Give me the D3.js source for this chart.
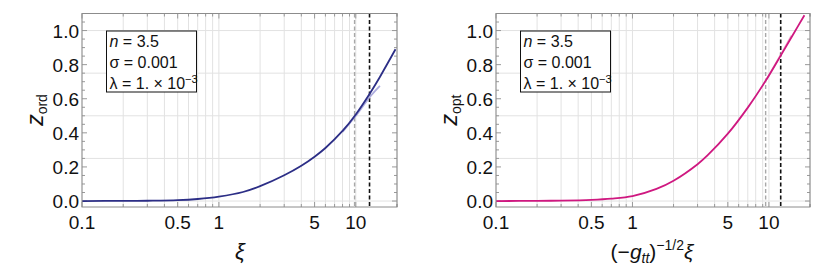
<!DOCTYPE html>
<html>
<head>
<meta charset="utf-8">
<style>
  body { margin: 0; background: #fff; }
  svg text { font-family: "Liberation Sans", Arial, sans-serif; fill: #111; }
</style>
</head>
<body>
<svg id="chart" width="830" height="277"></svg>
<script src="https://d3js.org/d3.v7.min.js"></script>
<script>

// left panel: z_ord vs xi
const xiOrd = [0.1, 0.2, 0.3, 0.5, 0.7, 1, 1.5, 2, 3, 4, 5, 6, 8, 10, 12.6, 15, 19.5];
const zOrd  = [0, 0.0008, 0.0018, 0.005, 0.012, 0.026, 0.053, 0.087, 0.151, 0.207, 0.26, 0.311, 0.411, 0.508, 0.628, 0.728, 0.89];
const xiOrdFaint = [8, 10, 12.6, 15];
const zOrdFaint  = [0.405, 0.500, 0.608, 0.675];

// right panel: z_opt vs (-g_tt)^(-1/2) xi
const xiOpt = [0.1, 0.2, 0.3, 0.5, 0.7, 1, 1.5, 2, 3, 3.56, 5, 7, 9.46, 12.2, 15, 18.2];
const zOpt  = [0, 0.001, 0.0025, 0.007, 0.014, 0.029, 0.071, 0.119, 0.216, 0.269, 0.395, 0.548, 0.705, 0.853, 0.975, 1.09];
const xiOptFaint = [9.46, 12.2, 14.6];
const zOptFaint  = [0.705, 0.858, 0.97];

// vertical dashed markers [gray, black]
const markOrd = [9.8, 12.6];
const markOpt = [9.46, 12.2];

const xTickLabels = [0.1, 0.5, 1, 5, 10];
const yTickLabels = [0, 0.2, 0.4, 0.6, 0.8, 1.0];
const legendLines = ["n", "σ", "λ"];
const legendValues = ["3.5", "0.001", "1."];

const svg = d3.select('#chart');
const yTop = 13.5, yBottom = 207;

function panel(x0, x1, xs, zs, xsF, zsF, marks, color, faint, yName, ySub) {
  const x = d3.scaleLog().domain([0.1, 20]).range([x0, x1]);
  const y = d3.scaleLinear().domain([-0.035, 1.1]).range([yBottom, yTop]);
  const g = svg.append('g');

  // grid
  const minors = [];
  for (let dec of [0.1, 1, 10]) for (let k = 1; k <= 9; k++) { const v = dec * k; if (v <= 20) minors.push(+v.toPrecision(3)); }
  minors.push(20);
  g.selectAll('.vg').data(minors).enter().append('line')
    .attr('x1', d => x(d)).attr('x2', d => x(d))
    .attr('y1', yTop).attr('y2', yBottom)
    .attr('stroke', '#e2e2e2').attr('stroke-width', 1);
  g.selectAll('.hg').data([0, 0.25, 0.5, 0.75, 1.0]).enter().append('line')
    .attr('x1', x0).attr('x2', x1)
    .attr('y1', d => y(d)).attr('y2', d => y(d))
    .attr('stroke', '#e2e2e2').attr('stroke-width', 1);

  // ticks on frame
  const yMinor = d3.range(0, 1.1, 0.05);
  yMinor.forEach(v => {
    const major = Math.abs(Math.round(v / 0.2) * 0.2 - v) < 1e-6;
    const len = major ? 5 : 3;
    g.append('line').attr('x1', x0).attr('x2', x0 + len).attr('y1', y(v)).attr('y2', y(v)).attr('stroke', '#999');
    g.append('line').attr('x1', x1).attr('x2', x1 - len).attr('y1', y(v)).attr('y2', y(v)).attr('stroke', '#999');
  });
  minors.forEach(v => {
    const major = xTickLabels.indexOf(v) >= 0;
    const len = major ? 5 : 3;
    g.append('line').attr('x1', x(v)).attr('x2', x(v)).attr('y1', yBottom).attr('y2', yBottom - len).attr('stroke', '#999');
    g.append('line').attr('x1', x(v)).attr('x2', x(v)).attr('y1', yTop).attr('y2', yTop + len).attr('stroke', '#999');
  });

  // dashed markers
  g.append('line').attr('x1', x(marks[0])).attr('x2', x(marks[0])).attr('y1', yTop).attr('y2', yBottom)
    .attr('stroke', '#a8a8a8').attr('stroke-width', 1.4).attr('stroke-dasharray', '4,2.5');
  g.append('line').attr('x1', x(marks[1])).attr('x2', x(marks[1])).attr('y1', yTop).attr('y2', yBottom)
    .attr('stroke', '#111').attr('stroke-width', 1.6).attr('stroke-dasharray', '4,2.5');

  // curves
  const line = d3.line().x(d => x(d[0])).y(d => y(d[1])).curve(d3.curveCatmullRom.alpha(0.5));
  g.append('path').datum(d3.zip(xsF, zsF)).attr('d', line)
    .attr('fill', 'none').attr('stroke', faint).attr('stroke-width', 1.8).attr('opacity', 0.8);
  g.append('path').datum(d3.zip(xs, zs)).attr('d', line)
    .attr('fill', 'none').attr('stroke', color).attr('stroke-width', 1.8);

  // frame
  g.append('rect').attr('x', x0).attr('y', yTop).attr('width', x1 - x0).attr('height', yBottom - yTop)
    .attr('fill', 'none').attr('stroke', '#8c8c8c').attr('stroke-width', 1);

  // tick labels
  g.selectAll('.xl').data(xTickLabels).enter().append('text')
    .attr('x', d => x(d)).attr('y', 229).attr('text-anchor', 'middle')
    .style('font-size', '19px').text(d => d);
  g.selectAll('.yl').data(yTickLabels).enter().append('text')
    .attr('x', x0 - 3).attr('y', d => y(d) + 7).attr('text-anchor', 'end')
    .style('font-size', '19px').text(d => d.toFixed(1));

  // y label
  const yl = g.append('text').attr('transform', `translate(${x0 - 39},110) rotate(-90)`)
    .attr('text-anchor', 'middle');
  yl.append('tspan').style('font-size', '23px').style('font-style', 'italic').text(yName);
  yl.append('tspan').style('font-size', '14px').attr('dy', 4).text(ySub);

  // legend
  const bx = x0 + 24.5, by = 31;
  g.append('rect').attr('x', bx).attr('y', by).attr('width', 90).attr('height', 61)
    .attr('fill', '#fff').attr('stroke', '#111').attr('stroke-width', 1);
  legendLines.forEach((s, i) => {
    const t = g.append('text').attr('x', bx + 3).attr('y', by + 15.5 + i * 21).style('font-size', '16px');
    t.append('tspan').style('font-style', s === 'n' ? 'italic' : 'normal').text(s);
    t.append('tspan').text(' = ' + legendValues[i]);
    if (i === 2) {
      t.append('tspan').text(' × 10');
      t.append('tspan').attr('dy', -6).style('font-size', '11px').text('−3');
    }
  });
  return g;
}

panel(82, 397, xiOrd, zOrd, xiOrdFaint, zOrdFaint, markOrd, '#2c2e86', '#9a98d6', 'z', 'ord');
panel(496, 810, xiOpt, zOpt, xiOptFaint, zOptFaint, markOpt, '#cf1880', '#eaa3c6', 'z', 'opt');

// x axis labels
svg.append('text').attr('x', 240).attr('y', 259).attr('text-anchor', 'middle')
  .style('font-size', '22px').style('font-style', 'italic').text('ξ');

const xl = svg.append('text').attr('x', 652).attr('y', 259).attr('text-anchor', 'middle').style('font-size', '21px');
xl.append('tspan').text('(−');
xl.append('tspan').style('font-style', 'italic').text('g');
xl.append('tspan').style('font-style', 'italic').style('font-size', '14px').attr('dy', 4).text('tt');
xl.append('tspan').attr('dy', -4).text(')');
xl.append('tspan').style('font-size', '14px').attr('dy', -9).text('−1/2');
xl.append('tspan').style('font-style', 'italic').attr('dy', 9).text('ξ');

</script>
</body>
</html>
